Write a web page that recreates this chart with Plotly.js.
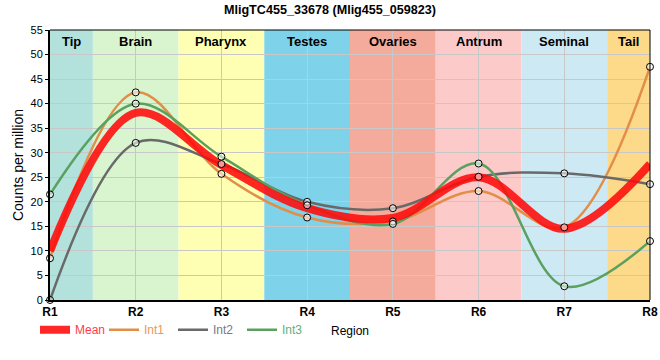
<!DOCTYPE html>
<html><head><meta charset="utf-8">
<script src="https://cdn.plot.ly/plotly-3.0.1.min.js"></script>
<style>html,body{margin:0;padding:0;background:#fff}</style>
</head><body><div id="chart" style="width:660px;height:360px"></div>
<script>
const regions = ['R1','R2','R3','R4','R5','R6','R7','R8'];
const meanVals = [10, 38.1, 27.5, 18.7, 16.7, 25.0, 14.5, 27.7];
const int1 = [8.5, 42.3, 25.7, 16.8, 16.0, 22.2, 14.8, 47.5];
const int2 = [0, 32, 27.7, 20.0, 18.7, 25.1, 25.8, 23.6];
const int3 = [21.5, 40, 29.2, 19.3, 15.5, 27.8, 2.8, 12];
const tissues = ['Tip','Brain','Pharynx','Testes','Ovaries','Antrum','Seminal','Tail'];
const tissueStart = [0, 0.5, 1.5, 2.5, 3.5, 4.5, 5.5, 6.5];
const tissueEnd = [0.5, 1.5, 2.5, 3.5, 4.5, 5.5, 6.5, 7];
const tissueColors = ['#b3e2dd','#d9f5d0','#ffffb3','#7ed3eb','#f4ab9c','#fdcaca','#cdeaf4','#fdd98a'];

const xs = regions.map((r,i)=>i);
function lineTrace(name, y, color, width, txtColor){
  return {x: xs, y: y, type:'scatter', mode:'lines', name:'<span style="color:'+txtColor+'">'+name+'</span>',
    line:{color:color, width:width, shape:'spline', smoothing:1}, hoverinfo:'skip', cliponaxis:false};
}
function markerTrace(y){
  return {x: xs, y: y, type:'scatter', mode:'markers', showlegend:false, cliponaxis:false,
    marker:{symbol:'circle', size:7, color:'rgba(255,255,255,0.55)', line:{color:'#000', width:1}}};
}
const traces = [
  lineTrace('Int1', int1, 'rgb(226,142,72)', 2.5, 'rgb(236,150,90)'),
  lineTrace('Int2', int2, 'rgb(105,105,105)', 2.5, 'rgb(120,120,140)'),
  lineTrace('Int3', int3, 'rgb(90,160,95)', 2.5, 'rgb(100,175,120)'),
  lineTrace('Mean', meanVals, 'rgba(255,10,10,0.88)', 8, 'rgb(255,60,70)'),
  markerTrace(int1), markerTrace(int2), markerTrace(int3)
];
traces[3].legendrank = 1; traces[0].legendrank = 2; traces[1].legendrank = 3; traces[2].legendrank = 4;

const shapes = tissues.map((t,i)=>({type:'rect', xref:'x', yref:'paper', x0:tissueStart[i], x1:tissueEnd[i], y0:0, y1:1,
  fillcolor:tissueColors[i], line:{width:0}, layer:'below'}));
shapes.push({type:'line', xref:'paper', yref:'paper', x0:0, x1:1, y0:1, y1:1, line:{color:'#000', width:1}});
shapes.push({type:'line', xref:'paper', yref:'paper', x0:1, x1:1, y0:0, y1:1, line:{color:'#000', width:1}});
const annotations = tissues.map((t,i)=>({xref:'x', yref:'paper', x:(tissueStart[i]+tissueEnd[i])/2, y:1, yanchor:'top', yshift:-2,
  text:'<b>'+t+'</b>', showarrow:false, font:{family:'Liberation Sans, Arial', size:13, color:'#000'}}));

const layout = {
  width:660, height:360,
  margin:{l:50, r:10, t:30, b:60},
  paper_bgcolor:'#fff', plot_bgcolor:'#fff',
  title:{text:'<b>MligTC455_33678 (Mlig455_059823)</b>', x:0.5, xanchor:'center', y:0.985, yanchor:'top',
    font:{family:'Liberation Sans, Arial', size:12.6, color:'#000'}},
  font:{family:'Liberation Sans, Arial', size:11, color:'#000'},
  xaxis:{range:[0,7], tickvals:xs, ticktext:regions.map(r=>'<b>'+r+'</b>'), showgrid:true, gridcolor:'#c8c8c8', gridwidth:1,
    zeroline:false, showline:true, linecolor:'#000', linewidth:2, ticks:'', tickfont:{size:12, color:'#000'},
    title:{text:'Region', standoff:8, font:{size:12, color:'#000'}}, layer:'above traces'},
  yaxis:{range:[0,55], dtick:5, showgrid:true, gridcolor:'#c8c8c8', gridwidth:1, zeroline:false, showline:true,
    linecolor:'#000', linewidth:2, ticks:'outside', ticklen:3, tickcolor:'#000', tickfont:{size:11, color:'#000'},
    title:{text:'Counts per million', standoff:4, font:{size:14, color:'#000'}}},
  shapes: shapes,
  annotations: annotations,
  showlegend:true,
  legend:{orientation:'h', x:-0.025, xanchor:'left', y:-0.11, yanchor:'middle', bgcolor:'rgba(0,0,0,0)',
    font:{size:12}, entrywidth:24, entrywidthmode:'pixels', traceorder:'normal', tracegroupgap:0}
};
Plotly.newPlot('chart', traces, layout, {displayModeBar:false, staticPlot:true});
</script></body></html>
